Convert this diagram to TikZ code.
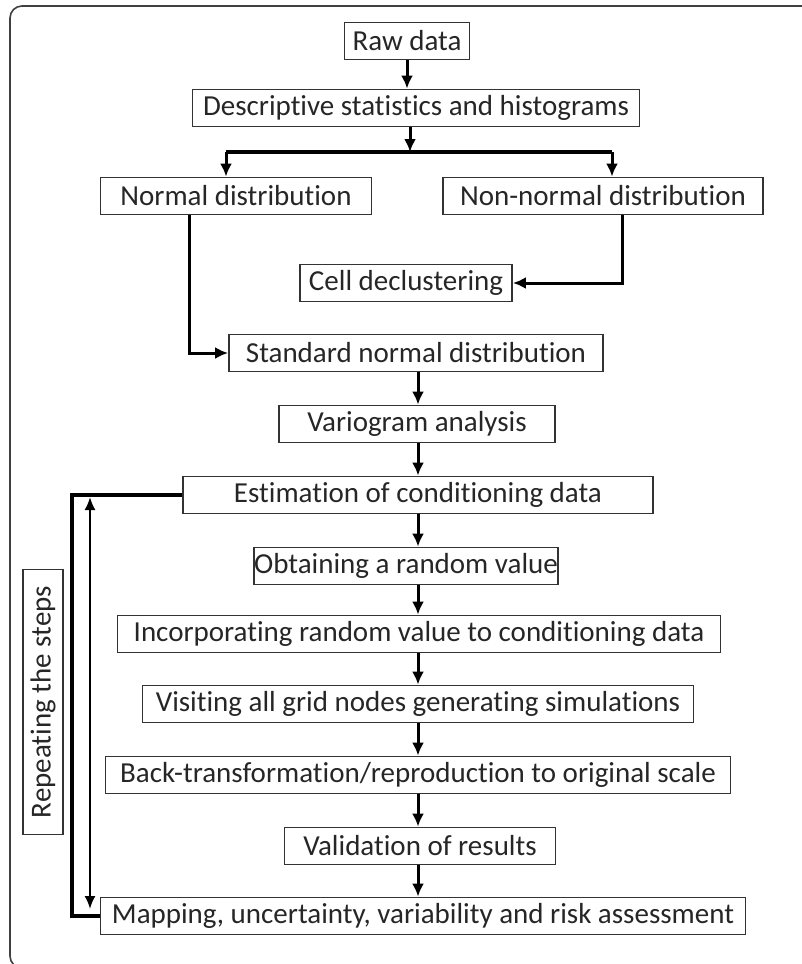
\documentclass[tikz,border=0pt]{standalone}
\usepackage{fontspec}
\setmainfont{Carlito}[Ligatures=NoCommon]
\usepackage{tikz}
\usetikzlibrary{arrows.meta,calc}
\newcommand{\flowfont}{\fontsize{29}{34}\selectfont}
\tikzset{
  stepbox/.style={draw=black!80, line width=1.8, text=black!85, font=\flowfont,
    minimum height=37, inner sep=0, align=center},
  flow/.style={line width=3, -{Latex[length=13,width=12]}},
  loopline/.style={line width=3.8},
}

\begin{document}
\begin{tikzpicture}[x=1pt,y=-1pt]
  \useasboundingbox (0,0) rectangle (802,964);
  \clip (0,0) rectangle (802,964);
  \draw[black!75, line width=1.6, rounded corners=12] (10,6) rectangle (830,968);

  \node[stepbox, minimum width=125] (raw) at (407,41) {Raw data};
  \node[stepbox, minimum width=447] (desc) at (416,108) {Descriptive statistics and histograms};
  \node[stepbox, minimum width=271] (normal) at (236,196) {Normal distribution};
  \node[stepbox, minimum width=320] (nonnormal) at (603,196) {Non-normal distribution};
  \node[stepbox, minimum width=212] (cell) at (406,283) {Cell declustering};
  \node[stepbox, minimum width=374] (stdnormal) at (416,353) {Standard normal distribution};
  \node[stepbox, minimum width=276] (vario) at (417,424) {Variogram analysis};
  \node[stepbox, minimum width=470] (estim) at (418,495) {Estimation of conditioning data};
  \node[stepbox, minimum width=300] (random) at (406,566) {Obtaining a random value};
  \node[stepbox, minimum width=603] (incorp) at (419,634) {Incorporating random value to conditioning data};
  \node[stepbox, minimum width=551] (visit) at (418,704) {Visiting all grid nodes generating simulations};
  \node[stepbox, minimum width=625] (backtr) at (418,775) {Back-transformation/reproduction to original scale};
  \node[stepbox, minimum width=271] (valid) at (420,846) {Validation of results};
  \node[stepbox, minimum width=645] (mapping) at (423,916) {Mapping, uncertainty, variability and risk assessment};
  \node[stepbox, rotate=90, minimum width=265, minimum height=40] (repeat) at (43,702) {Repeating the steps};

  \coordinate (spine) at (418,0);
  \coordinate (split) at (410,152);
  \coordinate (splitL) at (226,152);
  \coordinate (splitR) at (612,152);
  \coordinate (nbend) at (189,353);
  \coordinate (cbend) at (622,283);
  \coordinate (loop) at (72,0);
  \coordinate (upTip) at (90,497);
  \coordinate (downTip) at (90,909);

  \draw[flow] (raw.south) -- (raw.south |- desc.north);
  \draw[flow] (desc.south -| split) -- (split);
  \draw[loopline] (splitL) -- (splitR);
  \draw[flow] (splitL) -- (splitL |- normal.north);
  \draw[flow] (splitR) -- (splitR |- nonnormal.north);
  \draw[flow] (normal.south -| nbend) |- (stdnormal.west);
  \draw[flow] (nonnormal.south -| cbend) |- (cell.east);
  \foreach \a/\b in {stdnormal/vario, vario/estim, estim/random, random/incorp,
      incorp/visit, visit/backtr, backtr/valid, valid/mapping}
    \draw[flow] (\a.south -| spine) -- (\b.north -| spine);

  % repeat loop
  \draw[loopline] (estim.west) -- (estim.west -| loop) -- (mapping.west -| loop) -- (mapping.west);
  \draw[line width=2, {Latex[length=13,width=11]}-{Latex[length=13,width=11]}] (upTip) -- (downTip);
\end{tikzpicture}
\end{document}
